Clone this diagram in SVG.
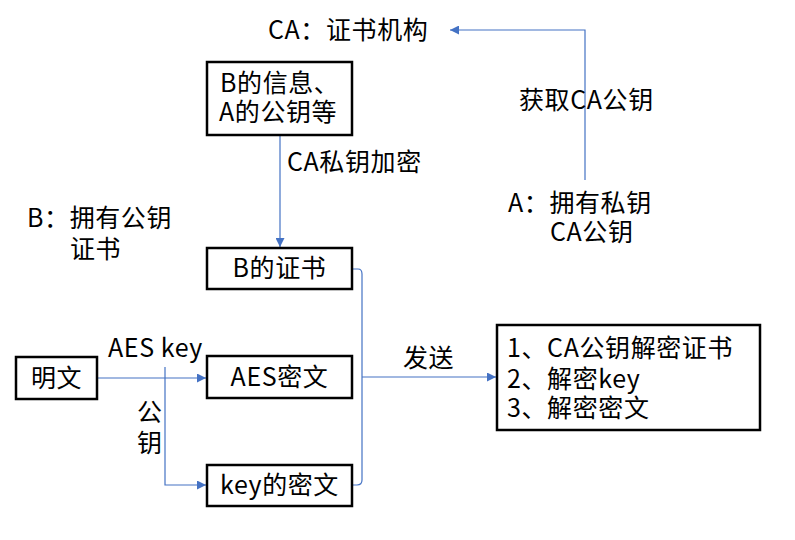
<svg xmlns="http://www.w3.org/2000/svg" width="795" height="540" viewBox="0 0 795 540">
<style>
text{font-family:"Noto Sans CJK SC","Liberation Sans",sans-serif;font-size:25px;letter-spacing:0.6px;fill:#000}
.box{fill:#fff;stroke:#000;stroke-width:2.5}
.c{text-anchor:middle}
.ln{fill:none;stroke:#4472C4;stroke-width:1.2}
</style>
<defs>
<marker id="ah" viewBox="0 0 10 10" refX="10" refY="5" markerWidth="9" markerHeight="9" markerUnits="userSpaceOnUse" orient="auto">
<path d="M0,0 L10,5 L0,10 z" fill="#4472C4"/>
</marker>
</defs>
<rect width="795" height="540" fill="#fff"/>
<g id="connectors">
<path class="ln" d="M585,180 V30 H450" marker-end="url(#ah)"/>
<path class="ln" d="M280,135 V247" marker-end="url(#ah)"/>
<path class="ln" d="M97,378 H206" marker-end="url(#ah)"/>
<path class="ln" d="M165,367 V485 H206" marker-end="url(#ah)"/>
<path class="ln" d="M352,269 H358 Q362,269 362,274 V480 Q362,485 357,485 H352"/>
<path class="ln" d="M362,377 H496" marker-end="url(#ah)"/>
</g>
<g id="ca-label"><text x="268" y="39">CA：证书机构</text></g>
<g id="info">
<rect class="box" x="207" y="62" width="145" height="73"/>
<text x="220" y="92">B的信息、</text>
<text x="219" y="121">A的公钥等</text>
</g>
<g id="label-encrypt"><text x="287" y="171">CA私钥加密</text></g>
<g id="label-getkey"><text x="519" y="109">获取CA公钥</text></g>
<g id="a-label">
<text x="508" y="212">A：拥有私钥</text>
<text x="550" y="241">CA公钥</text>
</g>
<g id="b-label">
<text x="27" y="227">B：拥有公钥</text>
<text x="70" y="258">证书</text>
</g>
<g id="cert">
<rect class="box" x="207" y="248" width="145" height="41"/>
<text class="c" x="279.5" y="277">B的证书</text>
</g>
<g id="plain">
<rect class="box" x="16" y="357" width="81" height="42"/>
<text class="c" x="56.5" y="387">明文</text>
</g>
<g id="label-aeskey"><text x="108" y="357">AES key</text></g>
<g id="label-pub">
<text x="137" y="421">公</text>
<text x="137" y="452">钥</text>
</g>
<g id="aes">
<rect class="box" x="207" y="356" width="145" height="42"/>
<text class="c" x="279.5" y="386">AES密文</text>
</g>
<g id="keyenc">
<rect class="box" x="207" y="465" width="145" height="41"/>
<text class="c" x="279.5" y="494">key的密文</text>
</g>
<g id="label-send"><text x="403" y="367">发送</text></g>
<g id="steps">
<rect class="box" x="497" y="325" width="263" height="105"/>
<text x="507" y="357">1、CA公钥解密证书</text>
<text x="507" y="388">2、解密key</text>
<text x="507" y="417">3、解密密文</text>
</g>
</svg>
